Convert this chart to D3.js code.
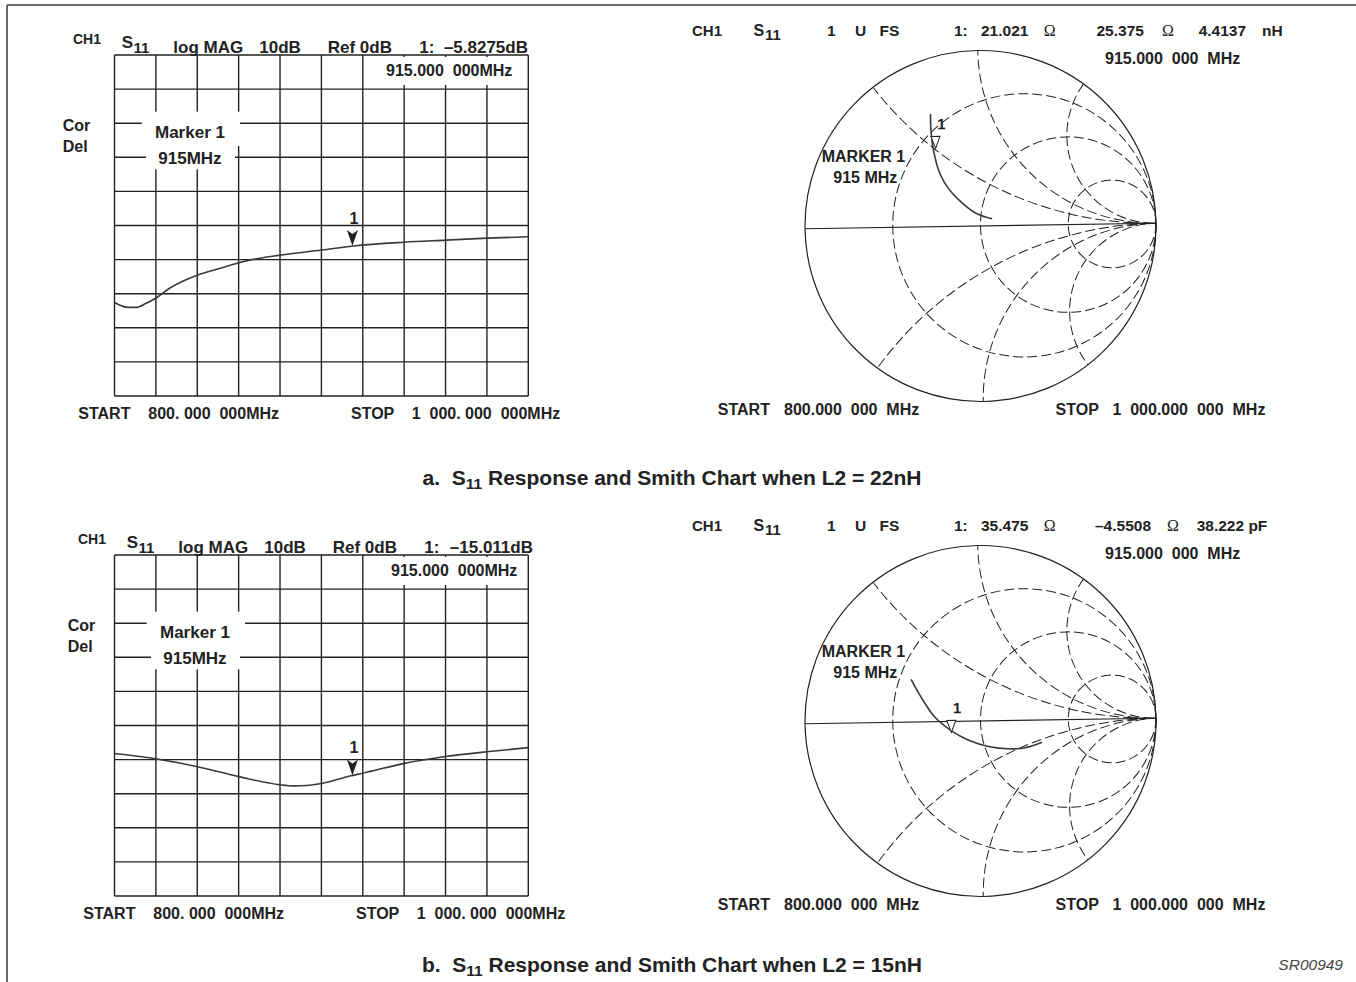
<!DOCTYPE html>
<html>
<head>
<meta charset="utf-8">
<script src="https://cdn.jsdelivr.net/npm/d3@7/dist/d3.min.js"></script>
<style>
  body { margin: 0; background: #fff; }
  text { font-family: "Liberation Sans", Arial, Helvetica, sans-serif; font-weight: bold; fill: #222; white-space: pre; }
</style>
</head>
<body>
<script>
// sweep and display scale
const sweep = [800, 1000];          // MHz, START / STOP
const dbRange = [0, -100];          // Ref 0dB at top, 10dB/div

// S11 log MAG trace, L2 = 22nH
const freqA = [800, 802.4, 806.5, 810.5, 815.3, 820.5, 826.6, 840.3, 850.8, 860.2, 870.2, 880.2, 900.2, 915.4, 940.1, 960.3, 980.3, 1000];
const magA  = [-72.6, -73.3, -74.0, -74.0, -72.8, -71.1, -68.4, -64.5, -62.6, -60.9, -59.6, -58.7, -57.2, -56.0, -54.9, -54.3, -53.7, -53.3];

// S11 log MAG trace, L2 = 15nH
const freqB = [800, 820.6, 840.2, 860.2, 880.1, 886.6, 893.0, 900.1, 913.9, 920.0, 940.1, 960.1, 979.9, 1000];
const magB  = [-58.2, -59.8, -62.1, -65.0, -67.4, -67.7, -67.6, -67.0, -64.8, -64.0, -61.1, -59.1, -57.7, -56.5];

// Smith traces (reflection coefficient, 800 -> 1000 MHz)
const gReA = [0.067, -0.022, -0.098, -0.155, -0.202, -0.236, -0.255, -0.265, -0.272, -0.275, -0.275];
const gImA = [0.040, 0.072, 0.129, 0.186, 0.252, 0.329, 0.405, 0.461, 0.528, 0.585, 0.642];
const gReB = [0.349, 0.254, 0.158, 0.044, -0.069, -0.164, -0.259, -0.335, -0.392];
const gImB = [-0.127, -0.156, -0.161, -0.146, -0.108, -0.055, 0.025, 0.139, 0.243];

// marker 1 readouts at 915 MHz
const markerMHz = 915;
const markerDbA = -5.8275, markerDbB = -15.011;
const markerZA = [21.021, 25.375];   // ohm, R + jX
const markerZB = [35.475, -4.5508];
const z0 = 50;

// graticule of the Smith chart
const rCircles = [1 / 3, 1, 3];
const xArcs = [0.5, 1, 2, -0.5, -1, -2];

const w = 1356, h = 982;
const ink = "#222";

const svg = d3.select("body").append("svg")
  .attr("width", w)
  .attr("height", h);

// page frame (top and left edge of the scan)
svg.append("line").attr("x1", 7).attr("y1", 5).attr("x2", w).attr("y2", 5)
  .attr("stroke", "#6a6a6a").attr("stroke-width", 2);
svg.append("line").attr("x1", 7).attr("y1", 5).attr("x2", 7).attr("y2", h)
  .attr("stroke", "#6a6a6a").attr("stroke-width", 2);

function label(g, x, y, str, size, extra) {
  const t = g.append("text").attr("x", x).attr("y", y).style("font-size", (size || 15) + "px").text(str);
  if (extra) extra(t);
  return t;
}

// ---------- log MAG panel ----------
function magPanel(oy, lx, freq, mag, readout) {
  const g = svg.append("g");
  const x = d3.scaleLinear().domain(sweep).range([114.5, 528.3]);
  const y = d3.scaleLinear().domain(dbRange).range([55 + oy, 396 + oy]);

  g.selectAll(".vl").data(x.ticks(10)).join("line")
    .attr("x1", d => x(d)).attr("x2", d => x(d))
    .attr("y1", y.range()[0]).attr("y2", y.range()[1])
    .attr("stroke", ink).attr("stroke-width", 1.4);
  g.selectAll(".hl").data(y.ticks(10)).join("line")
    .attr("y1", d => y(d)).attr("y2", d => y(d))
    .attr("x1", x.range()[0]).attr("x2", x.range()[1])
    .attr("stroke", ink).attr("stroke-width", 1.4);

  // white label boxes over the grid
  g.append("rect").attr("x", 380 + lx).attr("y", 57 + oy).attr("width", 525 - 380 - lx).attr("height", 28).attr("fill", "#fff");
  g.append("rect").attr("x", 141.7 + lx).attr("y", 111.7 + oy).attr("width", 98.3).attr("height", 34.3).attr("fill", "#fff");
  g.append("rect").attr("x", 146 + lx).attr("y", 146 + oy).attr("width", 89).attr("height", 23.3).attr("fill", "#fff");

  const line = d3.line().x((d, i) => x(freq[i])).y(d => y(d)).curve(d3.curveMonotoneX);
  g.append("path").attr("d", line(mag)).attr("fill", "none")
    .attr("stroke", "#3a3a3a").attr("stroke-width", 1.6);

  // marker 1 arrowhead on the trace
  const mx = x(markerMHz);
  const interp = d3.scaleLinear().domain(freq).range(mag);
  const ty = y(interp(markerMHz));
  g.append("path")
    .attr("d", `M${mx},${ty} L${mx - 5.5},${ty - 16} L${mx},${ty - 12} L${mx + 5.5},${ty - 16} Z`)
    .attr("fill", ink);
  label(g, mx + 1.5, ty - 22, "1", 16, t => t.attr("text-anchor", "middle"));

  // header
  label(g, 73 + lx, 44 + oy, "CH1", 14);
  label(g, 121.7 + lx, 48.3 + oy, "S", 17);
  label(g, 133.5 + lx, 53.3 + oy, "11", 15);
  label(g, 173.3 + lx, 52.7 + oy, "log MAG", 17);
  label(g, 259.3 + lx, 52.7 + oy, "10dB", 17);
  label(g, 327.7 + lx, 52.7 + oy, "Ref 0dB", 17);
  label(g, 419.3 + lx, 52.7 + oy, "1:", 17);
  label(g, 528 + lx, 52.7 + oy, "\u2013" + Math.abs(readout).toFixed(readout < -10 ? 3 : 4) + "dB", 17,
    t => t.attr("text-anchor", "end"));
  label(g, 386 + lx, 76 + oy, "915.000  000MHz", 16);

  label(g, 62.7 + lx, 131 + oy, "Cor", 16);
  label(g, 62.7 + lx, 151.7 + oy, "Del", 16);
  label(g, 155 + lx, 138.3 + oy, "Marker 1", 17);
  label(g, 158.3 + lx, 164 + oy, "915MHz", 17);

  label(g, 78.3 + lx, 419 + oy, "START", 16);
  label(g, 148.3 + lx, 419 + oy, "800. 000  000MHz", 16);
  label(g, 351 + lx, 419 + oy, "STOP", 16);
  label(g, 411.7 + lx, 419 + oy, "1  000. 000  000MHz", 16);
}

// ---------- Smith chart panel ----------
function smithPanel(oy, id, re, im, zm, readouts) {
  const cx = 980.5, cy = 226 + oy, R = 175.5;
  const gx = d3.scaleLinear().domain([-1, 1]).range([cx - R, cx + R]);
  const gy = d3.scaleLinear().domain([-1, 1]).range([cy + R, cy - R]);
  const unit = gx(1) - gx(0);

  const g = svg.append("g").attr("transform", `rotate(-0.9 ${cx} ${cy})`);
  g.append("clipPath").attr("id", id).append("circle")
    .attr("cx", cx).attr("cy", cy).attr("r", R);

  g.selectAll(".rc").data(rCircles).join("circle")
    .attr("cx", d => gx(d / (1 + d))).attr("cy", gy(0)).attr("r", d => unit / (1 + d))
    .attr("fill", "none").attr("stroke", ink).attr("stroke-width", 1)
    .attr("stroke-dasharray", "10,4");
  g.selectAll(".xa").data(xArcs).join("circle")
    .attr("cx", gx(1)).attr("cy", d => gy(1 / d)).attr("r", d => unit / Math.abs(d))
    .attr("fill", "none").attr("stroke", ink).attr("stroke-width", 1)
    .attr("stroke-dasharray", "10,4")
    .attr("clip-path", `url(#${id})`);

  g.append("line").attr("x1", gx(-1)).attr("x2", gx(1)).attr("y1", gy(0)).attr("y2", gy(0))
    .attr("stroke", ink).attr("stroke-width", 1.2);
  g.append("circle").attr("cx", cx).attr("cy", cy).attr("r", R)
    .attr("fill", "none").attr("stroke", ink).attr("stroke-width", 1.2);

  const pts = re.map((d, i) => [d, im[i]]);
  const line = d3.line().x(d => gx(d[0])).y(d => gy(d[1])).curve(d3.curveCatmullRom);
  g.append("path").attr("d", line(pts)).attr("fill", "none")
    .attr("stroke", "#3a3a3a").attr("stroke-width", 1.6);

  // marker from the impedance readout
  const zr = zm[0] / z0, zi = zm[1] / z0;
  const nr = zr - 1, ni = zi, dr = zr + 1, di = zi;
  const dd = dr * dr + di * di;
  const mr = (nr * dr + ni * di) / dd, mi = (ni * dr - nr * di) / dd;
  const px = gx(mr), py = gy(mi);
  g.append("path").attr("d", `M${px},${py} L${px - 4.5},${py - 12} L${px + 4.5},${py - 12} Z`)
    .attr("fill", "#fff").attr("stroke", ink).attr("stroke-width", 1);
  label(g, px + 6, py - 19, "1", 15, t => t.attr("text-anchor", "middle"));

  label(svg, 821.7, 162.3 + oy, "MARKER 1", 16);
  label(svg, 833.3, 183.3 + oy, "915 MHz", 16);

  // header
  const hy = 35.5 + oy;
  label(svg, 692, hy, "CH1", 15);
  label(svg, 753.5, hy, "S", 16);
  label(svg, 765, hy + 4.5, "11", 15);
  label(svg, 827, hy, "1", 15.5);
  label(svg, 855, hy, "U", 15.5);
  label(svg, 879.5, hy, "FS", 15.5);
  label(svg, 954, hy, "1:", 15.5);
  readouts.forEach(r => {
    const t = label(svg, r[0], hy, r[1], 15.5);
    if (r[2]) t.style("font-family", "'Liberation Serif', 'Times New Roman', serif").style("font-weight", "normal").style("font-size", "16px");
  });
  label(svg, 1105, 64 + oy, "915.000  000  MHz", 16);

  label(svg, 717.8, 415 + oy, "START", 16);
  label(svg, 784, 415 + oy, "800.000  000  MHz", 16);
  label(svg, 1055.6, 415 + oy, "STOP", 16);
  label(svg, 1112.4, 415 + oy, "1  000.000  000  MHz", 16);
}

magPanel(0, 0, freqA, magA, markerDbA);
magPanel(500, 5, freqB, magB, markerDbB);

smithPanel(0, "clipA", gReA, gImA, markerZA, [
  [981, "21.021"], [1043.7, "\u03A9", true], [1096.5, "25.375"], [1162, "\u03A9", true], [1198.7, "4.4137"], [1262, "nH"]
]);
smithPanel(495, "clipB", gReB, gImB, markerZB, [
  [981, "35.475"], [1043.7, "\u03A9", true], [1095, "\u20134.5508"], [1167, "\u03A9", true], [1196.7, "38.222 pF"]
]);

// captions
function caption(y, pre, post) {
  const t = svg.append("text").attr("x", 672).attr("y", y).attr("text-anchor", "middle")
    .style("font-size", "21px");
  t.append("tspan").text(pre);
  t.append("tspan").attr("dy", 4).style("font-size", "15.5px").text("11");
  t.append("tspan").attr("dy", -4).text(post);
}
caption(485, "a.  S", " Response and Smith Chart when L2 = 22nH");
caption(972, "b.  S", " Response and Smith Chart when L2 = 15nH");

svg.append("text").attr("x", 1343).attr("y", 970).attr("text-anchor", "end")
  .style("font-size", "15.5px").style("font-weight", "normal").style("font-style", "italic")
  .style("fill", "#444").text("SR00949");
</script>
</body>
</html>
